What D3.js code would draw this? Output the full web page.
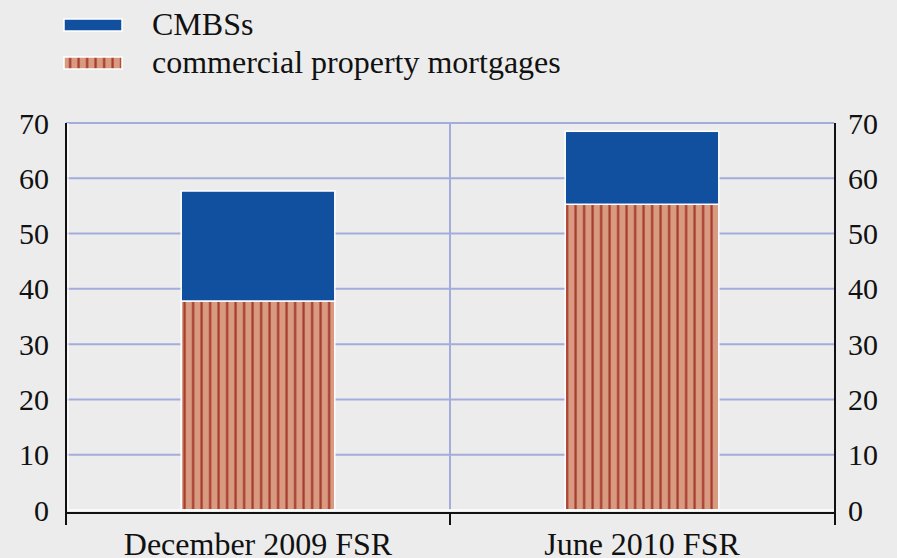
<!DOCTYPE html>
<html>
<head>
<meta charset="utf-8">
<script src="https://cdn.jsdelivr.net/npm/d3@7"></script>
<style>
  body { margin: 0; background: #ececec; }
  text { font-family: "Liberation Serif", "Times New Roman", serif; fill: #111; }
</style>
</head>
<body>
<svg width="897" height="558"></svg>
<script>
// data
const categories = ["December 2009 FSR", "June 2010 FSR"];
const mortgages = [37.8, 55.3];
const cmbs = [19.9, 13.2];
const yTicks = [0, 10, 20, 30, 40, 50, 60, 70];

const svg = d3.select("svg");
const x0 = 66, x1 = 834, yTop = 123, yBot = 510;

const x = d3.scaleBand().domain(categories).range([x0, x1])
    .paddingInner(0.6).paddingOuter(0.3);
const y = d3.scaleLinear().domain([0, 70]).range([yBot, yTop]);

// stripes
const defs = svg.append("defs");
const pat = defs.append("pattern")
    .attr("id", "stripes")
    .attr("patternUnits", "userSpaceOnUse")
    .attr("width", 8.5).attr("height", 10);
pat.append("rect").attr("width", 8.5).attr("height", 10).attr("fill", "#d99a82");
pat.append("rect").attr("x", 5).attr("width", 2.2).attr("height", 10).attr("fill", "#a63a2c");

// grid
const g = svg.append("g");
g.selectAll(".grid")
   .data(yTicks.slice(1))
   .enter().append("line")
   .attr("x1", x0).attr("x2", x1)
   .attr("y1", d => y(d)).attr("y2", d => y(d))
   .attr("stroke", "#a3acdb").attr("stroke-width", 2);
g.append("line")
   .attr("x1", (x0 + x1) / 2).attr("x2", (x0 + x1) / 2)
   .attr("y1", yTop).attr("y2", yBot)
   .attr("stroke", "#a3acdb").attr("stroke-width", 2);

// bars
const bars = g.selectAll(".bar").data(categories).enter().append("g");
bars.append("rect")
   .attr("x", d => x(d))
   .attr("width", x.bandwidth())
   .attr("y", (d, i) => y(mortgages[i]))
   .attr("height", (d, i) => y(0) - y(mortgages[i]))
   .attr("fill", "url(#stripes)")
   .attr("stroke", "#fff").attr("stroke-width", 1.5);
bars.append("rect")
   .attr("x", d => x(d))
   .attr("width", x.bandwidth())
   .attr("y", (d, i) => y(mortgages[i] + cmbs[i]))
   .attr("height", (d, i) => y(mortgages[i]) - y(mortgages[i] + cmbs[i]))
   .attr("fill", "#114f9f")
   .attr("stroke", "#fff").attr("stroke-width", 1.5);

// axes
g.append("line").attr("x1", x0 + 2).attr("x2", x1).attr("y1", yBot).attr("y2", yBot)
   .attr("stroke", "#fff").attr("stroke-width", 1.5);
g.append("line").attr("x1", x0 + 2).attr("x2", x0 + 2).attr("y1", yTop).attr("y2", yBot)
   .attr("stroke", "#fff").attr("stroke-width", 1.2);
g.append("line").attr("x1", x0).attr("x2", x0).attr("y1", yTop).attr("y2", yBot + 3)
   .attr("stroke", "#111").attr("stroke-width", 2);
g.append("line").attr("x1", x1 + 1).attr("x2", x1 + 1).attr("y1", yTop).attr("y2", yBot + 3)
   .attr("stroke", "#111").attr("stroke-width", 2);
g.append("line").attr("x1", x0).attr("x2", x1 + 1).attr("y1", yBot + 3).attr("y2", yBot + 3)
   .attr("stroke", "#111").attr("stroke-width", 2);
[x0, (x0 + x1) / 2, x1 + 1].forEach(px => {
   g.append("line").attr("x1", px).attr("x2", px).attr("y1", yBot + 3).attr("y2", yBot + 15)
      .attr("stroke", "#111").attr("stroke-width", 2);
});

// tick labels
g.selectAll(".yl").data(yTicks).enter().append("text")
   .attr("x", x0 - 17).attr("y", d => y(d)).attr("dy", ".35em")
   .style("text-anchor", "end").style("font-size", "30px").text(d => d);
g.selectAll(".yr").data(yTicks).enter().append("text")
   .attr("x", x1 + 14).attr("y", d => y(d)).attr("dy", ".35em")
   .style("text-anchor", "start").style("font-size", "30px").text(d => d);
g.selectAll(".xl").data(categories).enter().append("text")
   .attr("x", d => x(d) + x.bandwidth() / 2).attr("y", 555)
   .style("text-anchor", "middle").style("font-size", "32px").text(d => d);

// legend
const legend = [["CMBSs", "#114f9f"], ["commercial property mortgages", "url(#stripes)"]];
const lg = g.selectAll(".lg").data(legend).enter().append("g")
   .attr("transform", (d, i) => "translate(64," + (19 + i * 38) + ")");
lg.append("rect").attr("width", 58).attr("height", 12)
   .attr("fill", d => d[1]).attr("stroke", "#fff").attr("stroke-width", 1.5);
lg.append("text").attr("x", 88).attr("y", 16)
   .style("font-size", "32px").text(d => d[0]);
</script>
</body>
</html>
